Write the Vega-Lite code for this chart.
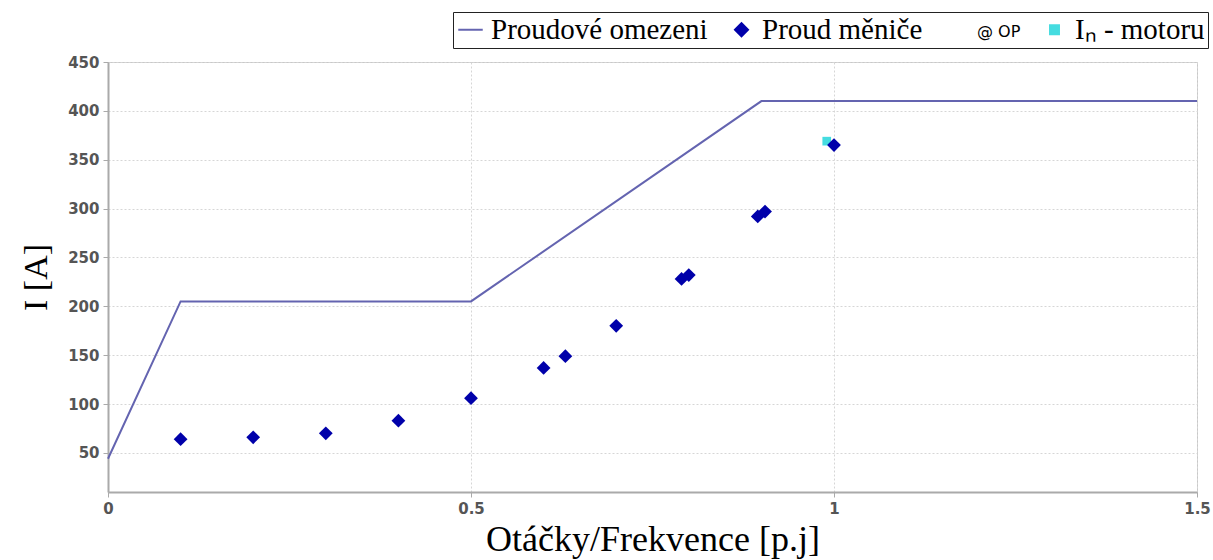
{
  "$schema": "https://vega.github.io/schema/vega-lite/v6.json",
  "width": 1089,
  "height": 430,
  "autosize": {"type": "none"},
  "padding": {"left": 108, "top": 62, "right": 16, "bottom": 68},
  "background": "white",
  "config": {
    "view": {"stroke": "#c8c8c8", "strokeWidth": 1},
    "axis": {
      "labelFont": "DejaVu Sans",
      "labelFontSize": 15,
      "labelFontWeight": "bold",
      "labelColor": "#555",
      "labelFlush": false,
      "domainColor": "#aaa",
      "domainWidth": 2,
      "tickColor": "#aaa",
      "tickSize": 5,
      "gridColor": "#d6d6d6",
      "gridDash": [2, 2],
      "titleFont": "Liberation Serif",
      "titleFontWeight": "normal",
      "titleColor": "black"
    }
  },
  "data": {
    "values": [
      {"series": "Iₙ - motoru", "x": 0.99, "y": 369},
      {"series": "Proudové omezeni", "x": 0, "y": 44},
      {"series": "Proudové omezeni", "x": 0.1, "y": 205},
      {"series": "Proudové omezeni", "x": 0.5, "y": 205},
      {"series": "Proudové omezeni", "x": 0.9, "y": 410},
      {"series": "Proudové omezeni", "x": 1.5, "y": 410},
      {"series": "Proud měniče", "x": 0.1, "y": 64},
      {"series": "Proud měniče", "x": 0.2, "y": 66},
      {"series": "Proud měniče", "x": 0.3, "y": 70},
      {"series": "Proud měniče", "x": 0.4, "y": 83},
      {"series": "Proud měniče", "x": 0.5, "y": 106},
      {"series": "Proud měniče", "x": 0.6, "y": 137},
      {"series": "Proud měniče", "x": 0.63, "y": 149},
      {"series": "Proud měniče", "x": 0.7, "y": 180},
      {"series": "Proud měniče", "x": 0.79, "y": 228},
      {"series": "Proud měniče", "x": 0.8, "y": 232},
      {"series": "Proud měniče", "x": 0.895, "y": 292},
      {"series": "Proud měniče", "x": 0.905, "y": 297},
      {"series": "Proud měniče", "x": 1.0, "y": 365}
    ]
  },
  "encoding": {
    "x": {
      "field": "x",
      "type": "quantitative",
      "scale": {"domain": [0, 1.5], "nice": false},
      "axis": {
        "values": [0, 0.5, 1, 1.5],
        "format": "~g",
        "title": "Otáčky/Frekvence [p.j]",
        "titleFontSize": 36,
        "titlePadding": 6,
        "labelPadding": 4
      }
    },
    "y": {
      "field": "y",
      "type": "quantitative",
      "scale": {"domain": [10, 450], "nice": false, "zero": false},
      "axis": {
        "values": [50, 100, 150, 200, 250, 300, 350, 400, 450],
        "title": "I [A]",
        "titleFontSize": 34,
        "titlePadding": 14,
        "labelPadding": 4
      }
    },
    "color": {
      "field": "series",
      "type": "nominal",
      "scale": {
        "domain": ["Proudové omezeni", "Proud měniče", "@ OP", "Iₙ - motoru"],
        "range": ["#6464b0", "#0000aa", "transparent", "#45dce0"]
      },
      "legend": {
        "title": null,
        "orient": "none",
        "legendX": 345,
        "legendY": -50,
        "direction": "horizontal",
        "columns": 4,
        "columnPadding": 19,
        "labelFont": "Liberation Serif",
        "labelFontSize": 29,
        "labelLimit": 400,
        "labelColor": "black",
        "labelOffset": 6,
        "padding": 3,
        "strokeColor": "#222",
        "fillColor": "white",
        "symbolStrokeWidth": 2,
        "encode": {
          "symbols": {
            "update": {
              "size": {"signal": "datum.value === 'Proudové omezeni' ? 600 : (datum.value === 'Iₙ - motoru' ? 80 : 170)"}
            }
          },
          "labels": {
            "update": {
              "fontSize": {"signal": "datum.value === '@ OP' ? 16 : 29"},
              "font": {"signal": "datum.value === '@ OP' ? 'DejaVu Sans' : 'Liberation Serif'"}
            }
          }
        }
      }
    }
  },
  "layer": [
    {
      "transform": [{"filter": "datum.series === 'Proudové omezeni'"}],
      "mark": {"type": "line", "strokeWidth": 2}
    },
    {
      "transform": [{"filter": "datum.series === 'Iₙ - motoru'"}],
      "mark": {"type": "point", "filled": true, "size": 75, "opacity": 1},
      "encoding": {
        "shape": {
          "field": "series",
          "type": "nominal",
          "scale": {
            "domain": ["Proudové omezeni", "Proud měniče", "@ OP", "Iₙ - motoru"],
            "range": ["stroke", "diamond", "circle", "square"]
          }
        }
      }
    },
    {
      "transform": [{"filter": "datum.series === 'Proud měniče'"}],
      "mark": {"type": "point", "filled": true, "size": 190, "opacity": 1},
      "encoding": {
        "shape": {
          "field": "series",
          "type": "nominal",
          "scale": {
            "domain": ["Proudové omezeni", "Proud měniče", "@ OP", "Iₙ - motoru"],
            "range": ["stroke", "diamond", "circle", "square"]
          }
        }
      }
    }
  ]
}
